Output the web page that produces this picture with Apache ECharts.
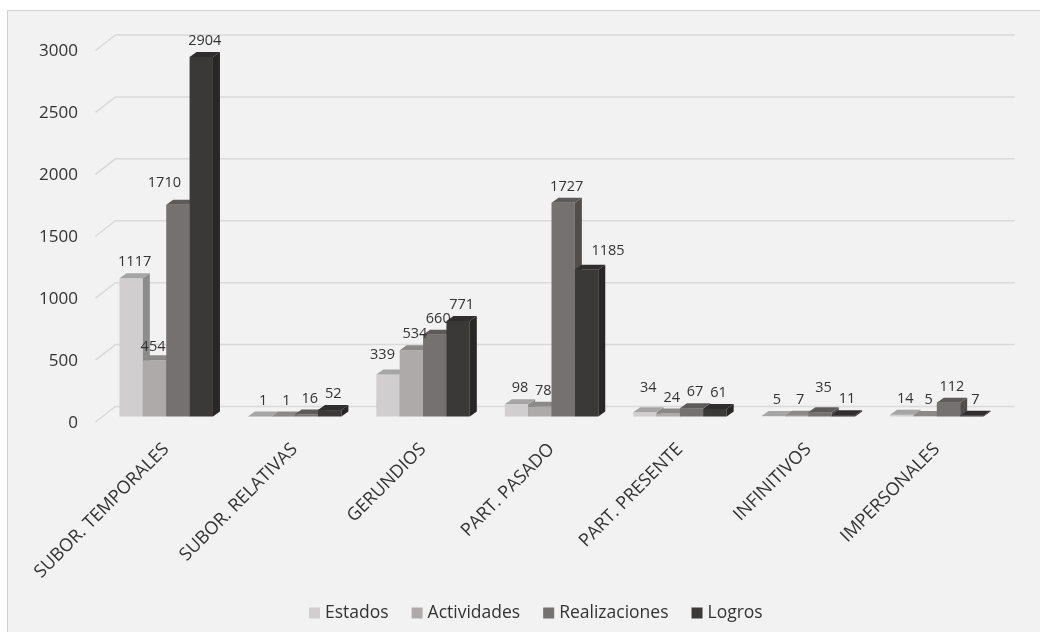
<!DOCTYPE html>
<html>
<head>
<meta charset="utf-8">
<script src="https://cdn.jsdelivr.net/npm/echarts@6/dist/echarts.min.js"></script>
<style>
  html, body { margin: 0; padding: 0; background: #ffffff; }
  #wrap { position: relative; width: 1040px; height: 632px; overflow: hidden; }
  #panel { position: absolute; left: 7px; top: 10px; width: 1060px; height: 660px;
           background: #f2f2f2; border: 1.5px solid #d2d2d2; box-sizing: border-box; }
  #chart { position: absolute; left: 0; top: 0; width: 1040px; height: 632px; }
</style>
</head>
<body>
<div id="wrap">
  <div id="panel"></div>
  <div id="chart"></div>
</div>
<script>
// Categories and counts per aspectual class
const categories = ['SUBOR. TEMPORALES', 'SUBOR. RELATIVAS', 'GERUNDIOS', 'PART. PASADO',
                    'PART. PRESENTE', 'INFINITIVOS', 'IMPERSONALES'];
const estados       = [1117, 1, 339, 98, 34, 5, 14];
const actividades   = [454, 1, 534, 78, 24, 7, 5];
const realizaciones = [1710, 16, 660, 1727, 67, 35, 112];
const logros        = [2904, 52, 771, 1185, 61, 11, 7];
const seriesNames   = ['Estados', 'Actividades', 'Realizaciones', 'Logros'];
const yTicks        = [0, 500, 1000, 1500, 2000, 2500, 3000];

const seriesValues = [estados, actividades, realizaciones, logros];
const frontColors  = ['#d0cece', '#aeaaaa', '#767171', '#3b3838'];

// label nudges (px) for crowded spots, keyed "series,category"
const labelShift = {
  '2,0': [-17, -6],
  '3,3': [18, -3],
  '0,2': [-9, -4],
  '1,0': [-5, 3],
  '0,4': [0, -8],
  '2,5': [0, -8]
};

const FONT = '"Open Sans", "DejaVu Sans", sans-serif';
const TEXT = '#333333';
const DX = 7, DY = 5;          // bar depth projection
const BAR_FRAC = 0.182;        // bar width as share of category band

function shade(hex, f) {
  const n = parseInt(hex.slice(1), 16);
  const r = Math.round(((n >> 16) & 255) * f);
  const g = Math.round(((n >> 8) & 255) * f);
  const b = Math.round((n & 255) * f);
  return 'rgb(' + r + ',' + g + ',' + b + ')';
}

function barRenderer(si) {
  const front = frontColors[si];
  const top = shade(front, 0.8);
  const side = shade(front, 0.68);
  return function (params, api) {
    const ci = api.value(0);
    const v = api.value(1);
    const base = api.coord([ci, 0]);
    const tip = api.coord([ci, v]);
    const band = api.size([1, 0])[0];
    const w = band * BAR_FRAC;
    const x0 = base[0] - 2 * w + si * w;
    const x1 = x0 + w;
    const yb = base[1], yt = tip[1];
    const sh = labelShift[si + ',' + ci] || [0, 0];
    return {
      type: 'group',
      children: [
        { type: 'rect', shape: { x: x0, y: yt, width: w, height: Math.max(yb - yt, 0) },
          style: { fill: front } },
        { type: 'polygon', shape: { points: [[x1, yt], [x1 + DX, yt - DY], [x1 + DX, yb - DY], [x1, yb]] },
          style: { fill: side } },
        { type: 'polygon', shape: { points: [[x0, yt], [x0 + DX, yt - DY], [x1 + DX, yt - DY], [x1, yt]] },
          style: { fill: top } },
        { type: 'text', z2: 100,
          style: { text: String(v), x: x0 + w / 2 + DX / 2 + sh[0], y: yt - 16 + sh[1],
                   align: 'center', verticalAlign: 'middle',
                   font: '14.5px ' + FONT, fill: TEXT } }
      ]
    };
  };
}

// back wall grid lines with a short floor diagonal at the front, plus the value label
function gridRenderer(params, api) {
  const cs = params.coordSys;
  const v = api.value(1);
  const y = api.coord([0, v])[1];
  const left = cs.x, right = cs.x + cs.width;
  return {
    type: 'group',
    children: [
      { type: 'polyline',
        shape: { points: [[left - 6.5, y + 5.5], [left + 13.5, y - 10], [right + 13.5, y - 10]] },
        style: { stroke: '#d9d9d9', lineWidth: 1.5, fill: null } },
      { type: 'text',
        style: { text: String(v), x: left - 24, y: y + 6.5, align: 'right', verticalAlign: 'middle',
                 font: '17px ' + FONT, fill: TEXT } }
    ]
  };
}

const series = [{
  type: 'custom',
  name: 'grid',
  silent: true,
  renderItem: gridRenderer,
  encode: { x: 0, y: 1 },
  data: yTicks.map(t => [0, t])
}];

seriesValues.forEach((vals, si) => {
  series.push({
    type: 'custom',
    name: seriesNames[si],
    itemStyle: { color: frontColors[si] },
    renderItem: barRenderer(si),
    encode: { x: 0, y: 1 },
    data: vals.map((v, ci) => [ci, v])
  });
});

const chart = echarts.init(document.getElementById('chart'), null, { renderer: 'canvas' });
chart.setOption({
  animation: false,
  backgroundColor: 'transparent',
  grid: { left: 102, right: 39, top: 45, bottom: 215.5, containLabel: false },
  legend: {
    data: seriesNames,
    left: 304, top: 599,
    icon: 'rect', itemWidth: 11, itemHeight: 11, itemGap: 23,
    textStyle: { fontFamily: FONT, fontSize: 17.5, color: TEXT }
  },
  xAxis: {
    type: 'category',
    data: categories,
    axisLine: { show: false },
    axisTick: { show: false },
    splitLine: { show: false },
    axisLabel: { interval: 0, rotate: 45, margin: 30, fontFamily: FONT, fontSize: 18, color: TEXT }
  },
  yAxis: {
    type: 'value',
    min: 0, max: 3000, interval: 500,
    axisLine: { show: false },
    axisTick: { show: false },
    splitLine: { show: false },
    axisLabel: { show: false }
  },
  series: series
});
</script>
</body>
</html>
